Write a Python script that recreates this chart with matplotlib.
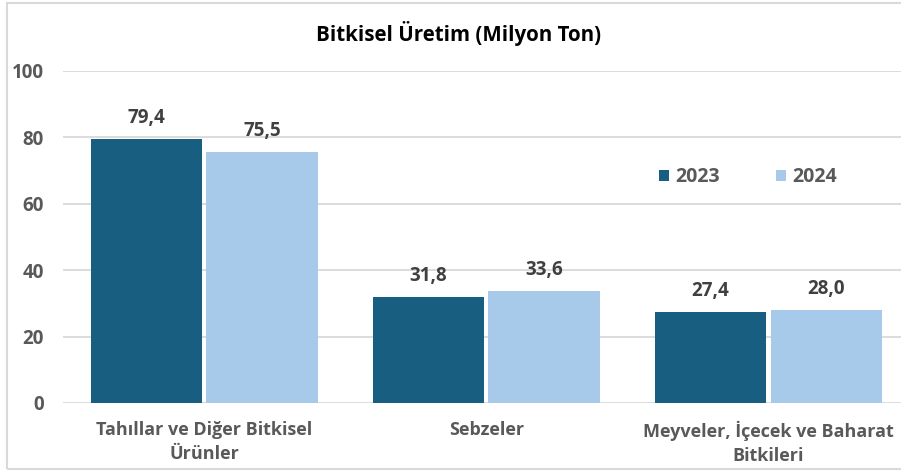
import matplotlib
matplotlib.use("Agg")
import matplotlib.pyplot as plt
import numpy as np
from matplotlib.patches import Rectangle

categories = ["Tahıllar ve Diğer Bitkisel\nÜrünler", "Sebzeler", "Meyveler, İçecek ve Baharat\nBitkileri"]
series_names = ["2023", "2024"]
values_2023 = [79.4, 31.8, 27.4]
values_2024 = [75.5, 33.6, 28.0]
yticks = [0, 20, 40, 60, 80, 100]

dark = "#175E81"
light = "#A7CAEB"
grid_c = "#D9D9D9"
tick_c = "#595959"
lab_c = "#404040"

plt.rcParams['font.family'] = ['Open Sans', 'DejaVu Sans']

W, H = 901, 472
fig = plt.figure(figsize=(W / 100, H / 100), dpi=100)
ax = fig.add_axes([63 / W, 1 - 403 / H, (W - 63) / W, (403 - 71) / H])

x = np.arange(len(categories))
bw = 0.394
off = 0.205
b1 = ax.bar(x - off, values_2023, bw, color=dark, label=series_names[0], zorder=3)
b2 = ax.bar(x + off, values_2024, bw, color=light, label=series_names[1], zorder=3)

for bars, vals in ((b1, values_2023), (b2, values_2024)):
    for r, v in zip(bars, vals):
        ax.annotate(f"{v:.1f}".replace(".", ","), (r.get_x() + r.get_width() / 2, v),
                    xytext=(0, 8), textcoords="offset points", ha="center", va="bottom",
                    fontsize=13.5, fontweight="bold", color=lab_c)

ax.set_ylim(0, 100)
ax.set_xlim(-0.5, 2.47)
ax.set_yticks(yticks)
ax.set_yticklabels([str(t) for t in yticks], fontsize=13.5, fontweight="bold", color=tick_c)
ax.set_xticks(x)
ax.set_xticklabels(categories, fontsize=13, fontweight="bold", color=tick_c, linespacing=1.4)
ax.tick_params(axis="y", length=0, pad=14)
ax.tick_params(axis="x", length=0, pad=13)
ax.yaxis.grid(True, color=grid_c, linewidth=1.3, zorder=0)
ax.set_axisbelow(True)
for s in ax.spines.values():
    s.set_visible(False)

leg = ax.legend(loc="center", bbox_to_anchor=(1.927, 68), bbox_transform=ax.transData,
                ncol=2, frameon=False, handlelength=0.52, handleheight=0.52,
                handletextpad=0.3, columnspacing=2.9,
                prop={"family": ["Open Sans", "DejaVu Sans"], "weight": "bold", "size": 14})
for t in leg.get_texts():
    t.set_color(tick_c)

fig.text(459 / W, 1 - 34 / H, "Bitkisel Üretim (Milyon Ton)", ha="center", va="center",
         fontsize=14.8, fontweight="bold", color="black")

fig.patches.append(Rectangle((7 / W, 3 / H), 1.2, (469 - 3) / H, transform=fig.transFigure,
                             fill=False, edgecolor=grid_c, linewidth=1.5))

fig.savefig("out.png", dpi=100)
